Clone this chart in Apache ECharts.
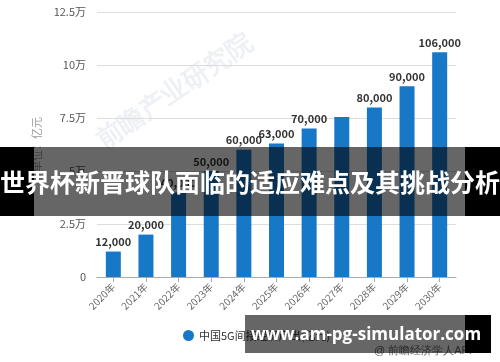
<!DOCTYPE html>
<html><head><meta charset="utf-8">
<script src="https://cdn.jsdelivr.net/npm/echarts@6/dist/echarts.min.js"></script>
<style>html,body{margin:0;padding:0;background:#fff}#c{width:500px;height:362px}</style>
</head><body><div id="c"></div>
<script>
const categories = ['2020年','2021年','2022年','2023年','2024年','2025年','2026年','2027年','2028年','2029年','2030年'];
const values = [12000, 20000, 40000, 50000, 60000, 63000, 70000, 75500, 80000, 90000, 106000];
const showLabel = [true, true, true, true, true, true, true, false, true, true, true];
const yTicks = [0, 25000, 50000, 75000, 100000, 125000];
const seriesName = '中国5G间接经济产出(亿元)';
const unitName = '单位：亿元';
const source = '@ 前瞻经济学人APP';
const bannerText = '世界杯新晋球队面临的适应难点及其挑战分析';
const siteText = 'www.am-pg-simulator.com';

const chart = echarts.init(document.getElementById('c'));
const fmt = v => v.toLocaleString('en-US');
chart.setOption({
  animation: false,
  textStyle: {fontFamily: '"Noto Sans CJK SC", "Noto Sans", sans-serif'},
  grid: {left: 97, right: 44, top: 12, bottom: 85},
  xAxis: {
    type: 'category', data: categories,
    axisLine: {lineStyle: {color: '#aaa'}},
    axisTick: {show: true, alignWithLabel: true, lineStyle: {color: '#aaa'}},
    axisLabel: {rotate: 45, color: '#666', fontSize: 10, margin: 8}
  },
  yAxis: {
    type: 'value', min: yTicks[0], max: yTicks[yTicks.length-1], interval: 25000,
    name: unitName, nameLocation: 'middle', nameRotate: 90, nameGap: 50,
    nameTextStyle: {color: '#999', fontSize: 11, align: 'center'},
    axisLine: {show: false}, axisTick: {show: false},
    axisLabel: {color: '#555', fontSize: 11, margin: 11,
      formatter: v => v === 0 ? '0' : (v/10000) + '万'},
    splitLine: {lineStyle: {color: '#ddd'}}
  },
  legend: {
    bottom: 16, left: 178, icon: 'circle', itemWidth: 11, itemHeight: 11,
    textStyle: {color: '#333', fontSize: 11}, data: [seriesName]
  },
  series: [{
    name: seriesName, type: 'bar', barWidth: 15,
    itemStyle: {color: '#1878c8'},
    data: values.map((v, i) => ({value: v, label: {show: showLabel[i]}})),
    label: {position: 'top', color: '#333', fontWeight: 'bold', fontSize: 11,
      distance: 4, formatter: p => fmt(p.value)}
  }],
  graphic: [
    {type: 'text', left: 374, top: 345, style: {text: source, fill: '#666', fontSize: 11}},
    {type: 'text', x: 175, y: 92, rotation: 0.6, z: -1,
      style: {text: '前瞻产业研究院', fill: 'rgba(190,200,215,0.28)', fontSize: 26, fontWeight: 'bold', align: 'center', verticalAlign: 'middle'}},
    {type: 'rect', shape: {x: 34, y: 147, width: 431, height: 69}, style: {fill: 'rgba(0,0,0,0.6)'}, z: 100},
    {type: 'rect', shape: {x: 0, y: 147, width: 34, height: 69}, style: {fill: '#000'}, z: 100},
    {type: 'rect', shape: {x: 465, y: 147, width: 35, height: 69}, style: {fill: '#000'}, z: 100},
    {type: 'text', x: 250, y: 182, z: 101,
      style: {text: bannerText, fill: '#fff', fontSize: 25, fontWeight: 'bold', align: 'center', verticalAlign: 'middle',
        fontFamily: '"Noto Sans CJK SC", sans-serif'}},
    {type: 'rect', shape: {x: 245, y: 315, width: 220, height: 38}, style: {fill: 'rgba(0,0,0,0.6)'}, z: 100},
    {type: 'rect', shape: {x: 465, y: 315, width: 26, height: 38}, style: {fill: '#000'}, z: 100},
    {type: 'text', x: 366, y: 335, z: 101,
      style: {text: siteText, fill: '#fff', fontSize: 17, fontWeight: 'bold', align: 'center', verticalAlign: 'middle',
        fontFamily: '"Open Sans", "Noto Sans", sans-serif'}}
  ]
});
</script></body></html>
